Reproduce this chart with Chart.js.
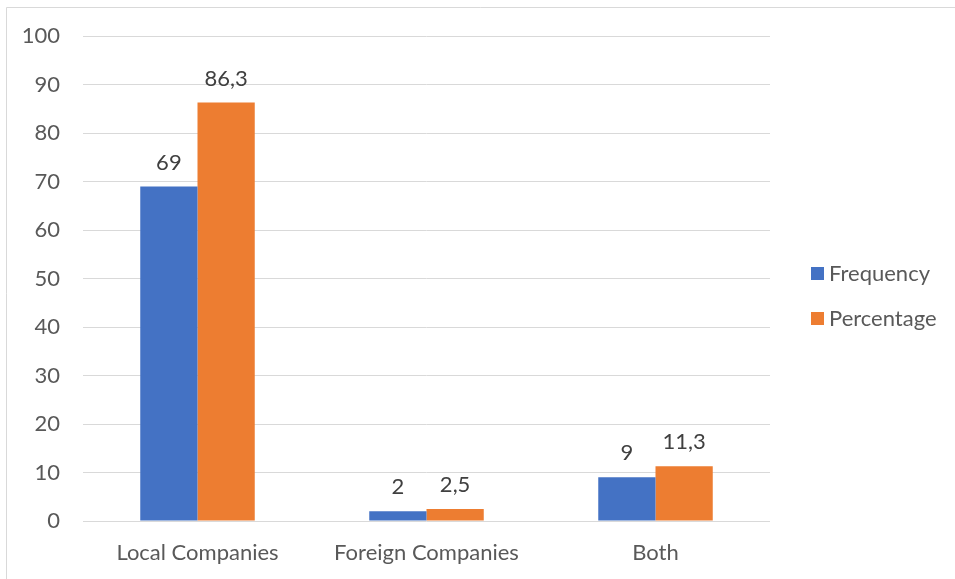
<!DOCTYPE html>
<html>
<head>
<meta charset="utf-8">
<script src="https://cdn.jsdelivr.net/npm/chart.js@4"></script>
<style>
  html, body { margin: 0; padding: 0; background: #fff; }
  #wrap { width: 955px; height: 579px; }
</style>
</head>
<body>
<div id="wrap"><canvas id="chart" width="955" height="579"></canvas></div>
<script>
const categories = ['Local Companies', 'Foreign Companies', 'Both'];
const frequency = [69, 2, 9];
const percentage = [86.3, 2.5, 11.3];
const seriesNames = ['Frequency', 'Percentage'];
const seriesColors = ['#4472C4', '#ED7D31'];
const yTicks = [0, 10, 20, 30, 40, 50, 60, 70, 80, 90, 100];

const FONT = 'Lato, "Open Sans", sans-serif';
const FONT_SIZE = 22;

// value labels above each bar, decimal comma
const valueLabels = {
  id: 'valueLabels',
  afterDatasetsDraw(chart) {
    const ctx = chart.ctx;
    ctx.save();
    ctx.font = FONT_SIZE + 'px ' + FONT;
    ctx.fillStyle = '#404040';
    ctx.textAlign = 'center';
    ctx.textBaseline = 'bottom';
    chart.data.datasets.forEach((ds, i) => {
      chart.getDatasetMeta(i).data.forEach((bar, j) => {
        const txt = String(ds.data[j]).replace('.', ',');
        ctx.fillText(txt, bar.x, bar.y - 13);
      });
    });
    ctx.restore();
  }
};

// frame and legend on the right
const frameLegend = {
  id: 'frameLegend',
  beforeDraw(chart) {
    const ctx = chart.ctx;
    ctx.save();
    ctx.fillStyle = '#fff';
    ctx.fillRect(0, 0, chart.width, chart.height);
    ctx.strokeStyle = '#d9d9d9';
    ctx.lineWidth = 1;
    ctx.beginPath();
    ctx.moveTo(6.5, chart.height);
    ctx.lineTo(6.5, 7.5);
    ctx.lineTo(chart.width, 7.5);
    ctx.stroke();
    ctx.restore();
  },
  afterDraw(chart) {
    const ctx = chart.ctx;
    ctx.save();
    ctx.font = FONT_SIZE + 'px ' + FONT;
    ctx.textBaseline = 'middle';
    ctx.textAlign = 'left';
    chart.data.datasets.forEach((ds, i) => {
      const y = 273 + i * 45;
      ctx.fillStyle = ds.backgroundColor;
      ctx.fillRect(811, y - 6, 13, 13);
      ctx.fillStyle = '#595959';
      ctx.fillText(ds.label, 829, y + 1);
    });
    ctx.restore();
  }
};

new Chart(document.getElementById('chart'), {
  type: 'bar',
  data: {
    labels: categories,
    datasets: [
      { label: seriesNames[0], data: frequency, backgroundColor: seriesColors[0] },
      { label: seriesNames[1], data: percentage, backgroundColor: seriesColors[1] }
    ]
  },
  options: {
    responsive: false,
    animation: false,
    layout: { padding: { top: 36, right: 185, bottom: 0, left: 0 } },
    datasets: { bar: { barPercentage: 1, categoryPercentage: 0.5 } },
    scales: {
      x: {
        grid: { display: false },
        border: { display: false },
        ticks: { color: '#595959', font: { family: FONT, size: FONT_SIZE }, padding: 11 },
        afterFit(scale) { scale.height = 58; }
      },
      y: {
        min: 0,
        max: 100,
        afterBuildTicks(scale) { scale.ticks = yTicks.map(v => ({ value: v })); },
        grid: { color: '#d9d9d9', lineWidth: 1, drawTicks: false },
        border: { display: false },
        ticks: { color: '#595959', font: { family: FONT, size: FONT_SIZE }, padding: 23 },
        afterFit(scale) { scale.width = 83; }
      }
    },
    plugins: {
      legend: { display: false },
      tooltip: { enabled: false }
    }
  },
  plugins: [valueLabels, frameLegend]
});
</script>
</body>
</html>
